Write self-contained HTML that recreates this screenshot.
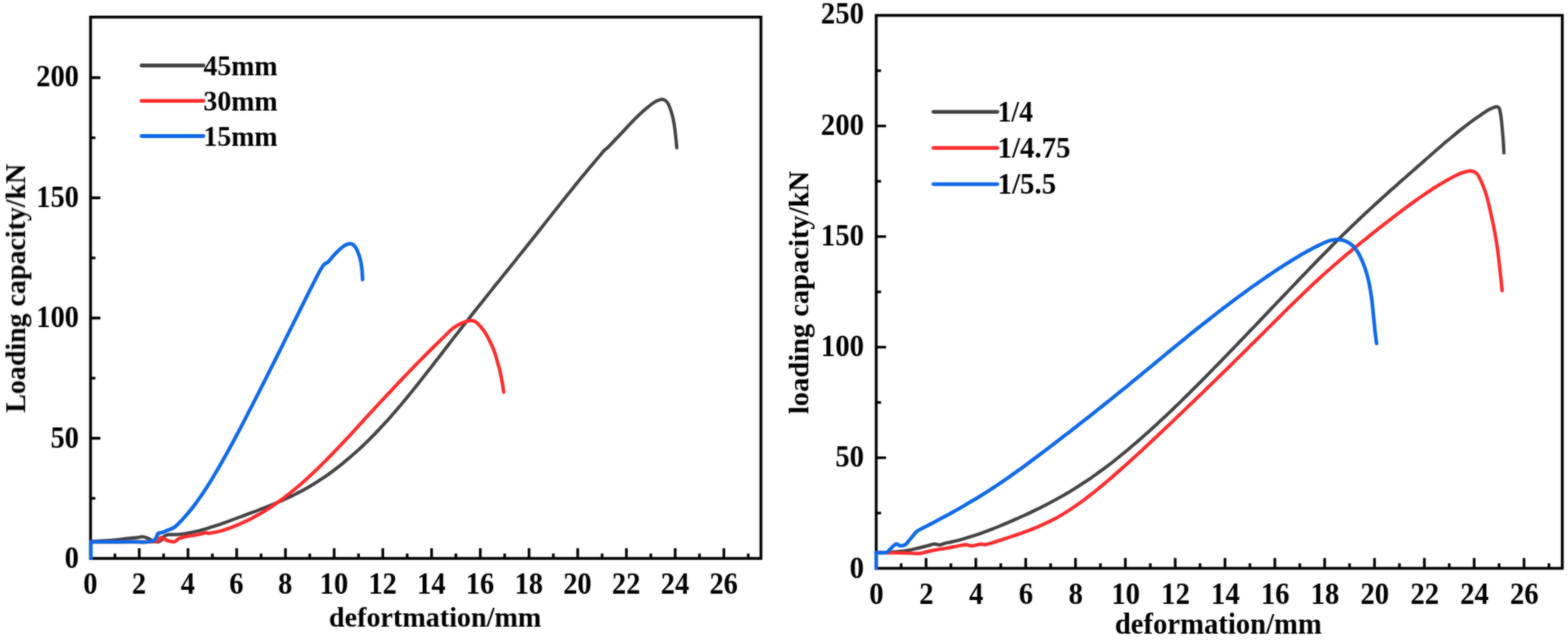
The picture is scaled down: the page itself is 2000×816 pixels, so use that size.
<!DOCTYPE html>
<html lang="en">
<head>
<meta charset="utf-8">
<title>Loading capacity vs deformation</title>
<style>
html,body{margin:0;padding:0;background:#fff;}
body{width:2000px;height:816px;overflow:hidden;}
svg{display:block;}
.t{font-size:36px;font-family:"Liberation Serif","DejaVu Serif",serif;font-weight:bold;fill:#000;}
</style>
</head>
<body>
<svg width="2000" height="816" viewBox="0 0 2000 816">
<defs><filter id="soft" x="-2%" y="-2%" width="104%" height="104%" color-interpolation-filters="sRGB"><feGaussianBlur in="SourceGraphic" stdDeviation="0.8" result="b"/><feComposite in="SourceGraphic" in2="b" operator="arithmetic" k1="0" k2="0.45" k3="0.55" k4="0"/></filter></defs>
<rect width="2000" height="816" fill="#fff"/>
<g filter="url(#soft)">
<g id="chart-left">
<rect x="115.5" y="21.8" width="855.1" height="690.2" fill="none" stroke="#000" stroke-width="3.6"/>
<path d="M146.6 712.0v-6.3M177.6 712.0v-13.0M208.7 712.0v-6.3M239.8 712.0v-13.0M270.9 712.0v-6.3M301.9 712.0v-13.0M333.0 712.0v-6.3M364.1 712.0v-13.0M395.1 712.0v-6.3M426.2 712.0v-13.0M457.3 712.0v-6.3M488.3 712.0v-13.0M519.4 712.0v-6.3M550.5 712.0v-13.0M581.5 712.0v-6.3M612.6 712.0v-13.0M643.7 712.0v-6.3M674.8 712.0v-13.0M705.8 712.0v-6.3M736.9 712.0v-13.0M768.0 712.0v-6.3M799.0 712.0v-13.0M830.1 712.0v-6.3M861.2 712.0v-13.0M892.2 712.0v-6.3M923.3 712.0v-13.0M954.4 712.0v-6.3M115.5 635.4h6.2M115.5 558.8h12.6M115.5 482.1h6.2M115.5 405.5h12.6M115.5 328.9h6.2M115.5 252.2h12.6M115.5 175.6h6.2M115.5 99.0h12.6" fill="none" stroke="#000" stroke-width="3.4"/>
<g class="t" text-anchor="middle" style="font-size:36.2px">
<text transform="translate(115.2 756.6) scale(1 1.09)">0</text>
<text transform="translate(177.3 756.6) scale(1 1.09)">2</text>
<text transform="translate(239.5 756.6) scale(1 1.09)">4</text>
<text transform="translate(301.6 756.6) scale(1 1.09)">6</text>
<text transform="translate(363.8 756.6) scale(1 1.09)">8</text>
<text transform="translate(425.9 756.6) scale(1 1.09)">10</text>
<text transform="translate(488.0 756.6) scale(1 1.09)">12</text>
<text transform="translate(550.2 756.6) scale(1 1.09)">14</text>
<text transform="translate(612.3 756.6) scale(1 1.09)">16</text>
<text transform="translate(674.5 756.6) scale(1 1.09)">18</text>
<text transform="translate(736.6 756.6) scale(1 1.09)">20</text>
<text transform="translate(798.7 756.6) scale(1 1.09)">22</text>
<text transform="translate(860.9 756.6) scale(1 1.09)">24</text>
<text transform="translate(923.0 756.6) scale(1 1.09)">26</text>
</g>
<g class="t" text-anchor="end" style="font-size:36.2px">
<text transform="translate(100.6 724.3) scale(1 1.09)">0</text>
<text transform="translate(100.6 570.8) scale(1 1.09)">50</text>
<text transform="translate(100.6 417.4) scale(1 1.09)">100</text>
<text transform="translate(100.6 263.9) scale(1 1.09)">150</text>
<text transform="translate(100.6 110.4) scale(1 1.09)">200</text>
</g>
<text class="t" transform="translate(419.6 798.8) scale(1 1.02)" textLength="270.8" lengthAdjust="spacingAndGlyphs">defortmation/mm</text>
<text class="t" text-anchor="middle" transform="translate(32.0 367.5) rotate(-90)" textLength="317.4" lengthAdjust="spacingAndGlyphs">Loading capacity/kN</text>
<path d="M116.0 690.5C121.7 690.1 140.2 688.9 150.0 688.0C159.8 687.1 169.7 685.9 175.0 685.3C180.3 684.7 179.8 684.2 182.0 684.3C184.2 684.4 185.7 685.1 188.0 686.0C190.3 686.9 193.7 689.0 196.0 689.8C198.3 690.6 200.3 691.0 202.0 690.8C203.7 690.6 204.8 689.6 206.0 688.5C207.2 687.4 207.7 685.3 209.0 684.2C210.3 683.1 211.8 682.2 214.0 681.8C216.2 681.4 219.3 681.8 221.9 681.7C224.6 681.6 227.2 681.3 229.9 681.1C232.5 680.8 235.2 680.4 237.8 680.0C240.5 679.6 243.1 679.1 245.8 678.5C248.4 678.0 251.1 677.3 253.7 676.7C256.4 676.0 259.0 675.3 261.7 674.5C264.3 673.8 267.0 673.0 269.6 672.1C272.3 671.3 274.9 670.4 277.6 669.5C280.2 668.6 282.9 667.7 285.5 666.8C288.2 665.8 290.8 664.9 293.5 663.9C296.1 662.9 298.8 661.9 301.4 660.9C304.1 660.0 306.7 659.0 309.4 658.0C312.0 657.0 314.7 656.0 317.3 655.0C320.0 654.0 322.6 653.1 325.3 652.1C327.9 651.0 330.6 650.0 333.2 649.0C335.9 648.0 338.5 647.0 341.2 645.9C343.8 644.8 346.5 643.8 349.1 642.7C351.8 641.6 354.4 640.4 357.0 639.3C359.7 638.1 362.3 636.9 365.0 635.7C367.6 634.5 370.3 633.3 372.9 632.0C375.6 630.7 378.2 629.3 380.9 628.0C383.5 626.6 386.2 625.2 388.8 623.7C391.5 622.2 394.1 620.7 396.8 619.1C399.4 617.6 402.1 615.9 404.7 614.2C407.4 612.6 410.0 610.8 412.7 609.0C415.3 607.2 418.0 605.4 420.6 603.5C423.3 601.5 425.9 599.6 428.6 597.5C431.2 595.5 433.9 593.4 436.5 591.3C439.2 589.2 441.8 587.0 444.5 584.7C447.1 582.5 449.8 580.2 452.4 577.8C455.1 575.5 457.7 573.0 460.4 570.6C463.0 568.1 465.7 565.6 468.3 563.0C471.0 560.4 473.6 557.8 476.3 555.1C478.9 552.4 481.6 549.6 484.2 546.8C486.9 544.0 489.5 541.2 492.1 538.2C494.8 535.3 497.4 532.4 500.1 529.3C502.7 526.3 505.4 523.2 508.0 520.1C510.7 517.0 513.3 513.9 516.0 510.7C518.6 507.5 521.3 504.2 523.9 501.0C526.6 497.7 529.2 494.4 531.9 491.1C534.5 487.8 537.2 484.4 539.8 481.0C542.5 477.7 545.1 474.3 547.8 470.9C550.4 467.5 553.1 464.1 555.7 460.6C558.4 457.2 561.0 453.8 563.7 450.4C566.3 446.9 569.0 443.5 571.6 440.1C574.3 436.6 576.9 433.2 579.6 429.8C582.2 426.4 584.9 423.0 587.5 419.6C590.2 416.2 592.8 412.8 595.5 409.5C598.1 406.1 600.8 402.8 603.4 399.4C606.1 396.1 608.7 392.7 611.4 389.4C614.0 386.1 616.7 382.8 619.3 379.5C622.0 376.2 624.6 372.8 627.3 369.5C629.9 366.2 632.5 362.9 635.2 359.7C637.8 356.4 640.5 353.1 643.1 349.8C645.8 346.5 648.4 343.2 651.1 339.9C653.7 336.6 656.4 333.3 659.0 330.0C661.7 326.7 664.3 323.4 667.0 320.1C669.6 316.8 672.3 313.4 674.9 310.1C677.6 306.8 680.2 303.5 682.9 300.1C685.5 296.8 688.2 293.4 690.8 290.1C693.5 286.7 696.1 283.4 698.8 280.0C701.4 276.7 704.1 273.3 706.7 270.0C709.4 266.6 712.0 263.3 714.7 260.0C717.3 256.6 720.0 253.3 722.6 250.0C725.3 246.7 727.9 243.4 730.6 240.1C733.2 236.8 735.9 233.6 738.5 230.3C741.2 227.1 743.8 223.8 746.5 220.6C749.1 217.4 751.8 214.2 754.4 211.1C757.1 207.9 759.7 204.8 762.4 201.7C765.0 198.6 768.1 194.6 770.3 192.3C772.5 190.0 772.5 190.7 775.5 187.8C778.5 184.9 783.9 179.0 788.0 174.7C792.1 170.4 796.2 166.1 800.0 162.0C803.8 157.9 806.9 154.4 811.0 150.4C815.1 146.4 820.7 141.2 824.8 137.8C828.9 134.4 832.5 131.7 835.6 129.8C838.7 127.9 841.4 126.9 843.6 126.6C845.8 126.3 847.1 127.0 848.6 128.1C850.1 129.2 851.4 130.4 852.7 133.1C854.1 135.8 855.5 140.2 856.7 144.2C857.9 148.2 858.9 152.5 859.7 157.2C860.5 161.9 861.1 167.1 861.7 172.3C862.3 177.5 863.0 185.7 863.2 188.4" fill="none" stroke="#414141" stroke-width="4.2" stroke-linecap="round" stroke-linejoin="round"/>
<path d="M116.0 691.0C121.7 691.0 136.4 691.1 150.0 691.0C163.6 690.9 188.6 691.2 197.5 690.5C206.4 689.8 202.1 687.3 203.5 686.5C204.9 685.7 204.9 685.3 206.0 685.5C207.1 685.7 208.5 686.8 210.0 687.5C211.5 688.2 212.9 689.3 215.0 689.8C217.1 690.3 220.2 691.2 222.5 690.7C224.8 690.2 226.0 687.7 228.5 686.6C231.0 685.5 233.9 684.7 237.5 684.0C241.1 683.3 245.9 683.0 250.0 682.2C254.1 681.4 259.2 679.6 262.0 679.2C264.8 678.8 263.5 680.3 266.5 680.0C269.5 679.7 276.4 678.2 280.0 677.4C283.6 676.5 285.4 675.8 288.0 674.9C290.7 674.1 293.4 673.1 296.1 672.1C298.8 671.1 301.4 670.0 304.1 668.9C306.8 667.8 309.5 666.6 312.1 665.3C314.8 664.1 317.5 662.7 320.2 661.4C322.9 660.0 325.5 658.5 328.2 657.0C330.9 655.5 333.6 654.0 336.3 652.3C338.9 650.7 341.6 649.0 344.3 647.3C347.0 645.5 349.7 643.7 352.3 641.9C355.0 640.0 357.7 638.1 360.4 636.1C363.0 634.1 365.7 632.0 368.4 629.9C371.1 627.8 373.8 625.7 376.4 623.4C379.1 621.2 381.8 618.9 384.5 616.6C387.2 614.2 389.8 611.8 392.5 609.4C395.2 606.9 397.9 604.4 400.6 601.9C403.2 599.3 405.9 596.7 408.6 594.1C411.3 591.5 413.9 588.8 416.6 586.1C419.3 583.4 422.0 580.7 424.7 577.9C427.3 575.1 430.0 572.3 432.7 569.5C435.4 566.7 438.1 563.8 440.7 561.0C443.4 558.1 446.1 555.2 448.8 552.3C451.5 549.4 454.1 546.5 456.8 543.6C459.5 540.7 462.2 537.8 464.8 534.8C467.5 531.9 470.2 529.0 472.9 526.1C475.6 523.2 478.2 520.2 480.9 517.3C483.6 514.4 486.3 511.5 489.0 508.7C491.6 505.8 494.3 502.9 497.0 500.1C499.7 497.2 502.4 494.4 505.0 491.5C507.7 488.7 510.4 485.9 513.1 483.1C515.7 480.3 518.4 477.5 521.1 474.7C523.8 471.9 526.5 469.2 529.1 466.4C531.8 463.7 534.5 460.9 537.2 458.2C539.9 455.5 542.5 452.8 545.2 450.1C547.9 447.5 550.6 444.8 553.3 442.1C555.9 439.5 558.6 436.9 561.3 434.3C564.0 431.6 566.6 429.0 569.3 426.5C572.0 423.9 574.7 420.9 577.4 418.8C580.0 416.7 582.4 415.2 585.4 413.7C588.4 412.2 592.8 410.4 595.5 409.6C598.2 408.8 599.7 408.7 601.5 408.8C603.3 408.9 604.6 408.9 606.5 410.2C608.4 411.5 610.8 414.0 613.0 416.5C615.2 419.0 617.3 421.6 619.5 425.2C621.7 428.8 624.3 434.1 626.3 438.3C628.3 442.5 630.0 446.4 631.4 450.4C632.8 454.3 633.7 458.7 634.6 462.0C635.5 465.3 636.0 465.8 637.0 470.0C638.0 474.2 639.6 482.0 640.5 487.0C641.4 492.0 642.2 497.8 642.5 500.0" fill="none" stroke="#fb2a2c" stroke-width="4.4" stroke-linecap="round" stroke-linejoin="round"/>
<path d="M116.0 713.8V690.7" fill="none" stroke="#0c68e6" stroke-width="4.5"/>
<path d="M116.0 690.7C121.7 690.7 140.2 690.9 150.0 690.9C159.8 690.9 169.5 690.6 175.0 690.7C180.5 690.8 180.3 691.3 182.8 691.3C185.3 691.3 187.8 690.8 190.0 690.5C192.2 690.2 194.4 690.4 196.0 689.5C197.6 688.6 198.6 686.5 199.5 685.0C200.4 683.5 200.2 681.3 201.5 680.3C202.8 679.2 205.0 679.6 207.5 678.7C210.0 677.8 213.9 676.1 216.5 675.0C219.1 673.9 220.6 673.7 223.0 671.9C225.4 670.1 228.4 666.9 231.1 664.1C233.8 661.3 236.5 658.3 239.2 655.1C241.9 651.9 244.6 648.5 247.3 645.0C250.0 641.4 252.7 637.7 255.4 633.8C258.1 629.9 260.8 625.9 263.5 621.7C266.2 617.5 268.9 613.2 271.5 608.8C274.2 604.4 276.9 599.8 279.6 595.2C282.3 590.5 285.0 585.8 287.7 580.9C290.4 576.1 293.1 571.2 295.8 566.2C298.5 561.2 301.2 556.1 303.9 551.0C306.6 545.9 309.3 540.7 312.0 535.5C314.7 530.3 317.4 525.1 320.1 519.8C322.8 514.6 325.5 509.3 328.2 504.0C330.9 498.7 333.6 493.4 336.3 488.1C339.0 482.7 341.7 477.4 344.4 472.0C347.1 466.7 349.8 461.3 352.5 455.9C355.2 450.5 357.9 445.1 360.6 439.7C363.2 434.3 365.9 428.9 368.6 423.5C371.3 418.1 374.0 412.7 376.7 407.3C379.4 401.8 382.1 396.4 384.8 391.0C387.5 385.6 390.2 380.2 392.9 374.8C395.6 369.5 398.3 364.0 401.0 358.7C403.7 353.5 407.1 347.0 409.1 343.4C411.1 339.8 412.2 338.5 413.3 337.2C414.4 335.9 414.9 336.2 415.7 335.7C416.5 335.2 417.0 335.5 418.2 334.3C419.4 333.1 421.2 330.9 423.1 328.7C425.0 326.5 427.4 323.6 429.7 321.3C432.0 319.0 434.9 316.4 437.1 314.7C439.3 313.0 441.3 312.1 442.9 311.4C444.5 310.7 445.4 310.6 446.6 310.7C447.8 310.8 449.1 310.9 450.3 311.8C451.5 312.7 452.8 314.1 454.0 316.2C455.2 318.3 456.5 321.2 457.6 324.3C458.7 327.4 459.7 331.1 460.4 334.6C461.1 338.2 461.5 342.0 461.9 345.6C462.2 349.2 462.4 354.7 462.5 356.5" fill="none" stroke="#0c68e6" stroke-width="4.6" stroke-linecap="round" stroke-linejoin="round"/>
<path d="M180.5 83.5H259.5" stroke="#414141" stroke-width="4.8" stroke-linecap="round"/>
<text class="t" style="font-size:36px" x="259.5" y="95.5" textLength="94.5" lengthAdjust="spacingAndGlyphs">45mm</text>
<path d="M180.5 128.7H259.5" stroke="#fb2a2c" stroke-width="4.8" stroke-linecap="round"/>
<text class="t" style="font-size:36px" x="259.5" y="140.7" textLength="94.5" lengthAdjust="spacingAndGlyphs">30mm</text>
<path d="M180.5 173.5H259.5" stroke="#0c68e6" stroke-width="4.8" stroke-linecap="round"/>
<text class="t" style="font-size:36px" x="259.5" y="185.5" textLength="94.5" lengthAdjust="spacingAndGlyphs">15mm</text>
</g>
<g id="chart-right">
<rect x="1117.6" y="19.6" width="875.1" height="705.0" fill="none" stroke="#000" stroke-width="3.6"/>
<path d="M1149.4 724.6v-6.3M1181.2 724.6v-13.0M1212.9 724.6v-6.3M1244.7 724.6v-13.0M1276.5 724.6v-6.3M1308.3 724.6v-13.0M1340.1 724.6v-6.3M1371.8 724.6v-13.0M1403.6 724.6v-6.3M1435.4 724.6v-13.0M1467.2 724.6v-6.3M1499.0 724.6v-13.0M1530.7 724.6v-6.3M1562.5 724.6v-13.0M1594.3 724.6v-6.3M1626.1 724.6v-13.0M1657.9 724.6v-6.3M1689.6 724.6v-13.0M1721.4 724.6v-6.3M1753.2 724.6v-13.0M1785.0 724.6v-6.3M1816.8 724.6v-13.0M1848.5 724.6v-6.3M1880.3 724.6v-13.0M1912.1 724.6v-6.3M1943.9 724.6v-13.0M1975.7 724.6v-6.3M1117.6 654.1h6.2M1117.6 583.6h12.6M1117.6 513.1h6.2M1117.6 442.6h12.6M1117.6 372.1h6.2M1117.6 301.6h12.6M1117.6 231.1h6.2M1117.6 160.6h12.6M1117.6 90.1h6.2" fill="none" stroke="#000" stroke-width="3.4"/>
<g class="t" text-anchor="middle" style="font-size:36.6px">
<text transform="translate(1118.0 769.8) scale(1 1.12)">0</text>
<text transform="translate(1181.6 769.8) scale(1 1.12)">2</text>
<text transform="translate(1245.1 769.8) scale(1 1.12)">4</text>
<text transform="translate(1308.7 769.8) scale(1 1.12)">6</text>
<text transform="translate(1372.2 769.8) scale(1 1.12)">8</text>
<text transform="translate(1435.8 769.8) scale(1 1.12)">10</text>
<text transform="translate(1499.4 769.8) scale(1 1.12)">12</text>
<text transform="translate(1562.9 769.8) scale(1 1.12)">14</text>
<text transform="translate(1626.5 769.8) scale(1 1.12)">16</text>
<text transform="translate(1690.0 769.8) scale(1 1.12)">18</text>
<text transform="translate(1753.6 769.8) scale(1 1.12)">20</text>
<text transform="translate(1817.2 769.8) scale(1 1.12)">22</text>
<text transform="translate(1880.7 769.8) scale(1 1.12)">24</text>
<text transform="translate(1944.3 769.8) scale(1 1.12)">26</text>
</g>
<g class="t" text-anchor="end" style="font-size:36.6px">
<text transform="translate(1102.0 736.7) scale(1 1.12)">0</text>
<text transform="translate(1102.0 595.4) scale(1 1.12)">50</text>
<text transform="translate(1102.0 454.1) scale(1 1.12)">100</text>
<text transform="translate(1102.0 312.8) scale(1 1.12)">150</text>
<text transform="translate(1102.0 171.5) scale(1 1.12)">200</text>
<text transform="translate(1102.0 30.2) scale(1 1.12)">250</text>
</g>
<text class="t" transform="translate(1422.0 808.3) scale(1 1.04)" textLength="264.0" lengthAdjust="spacingAndGlyphs">deformation/mm</text>
<text class="t" text-anchor="middle" transform="translate(1031.4 373.0) rotate(-90)" textLength="310.1" lengthAdjust="spacingAndGlyphs">loading capacity/kN</text>
<path d="M1117.7 704.6C1119.8 704.6 1124.2 704.9 1130.0 704.6C1135.8 704.3 1146.2 703.5 1152.5 702.7C1158.8 701.9 1162.5 700.8 1167.5 699.7C1172.5 698.6 1178.5 697.0 1182.5 696.0C1186.5 695.0 1188.8 693.9 1191.5 693.7C1194.2 693.5 1196.8 695.0 1199.0 694.8C1201.2 694.6 1202.7 693.4 1205.0 692.8C1207.3 692.2 1210.3 691.7 1213.0 691.1C1215.7 690.5 1218.4 689.9 1221.0 689.2C1223.7 688.5 1226.4 687.8 1229.1 687.0C1231.7 686.3 1234.4 685.5 1237.1 684.6C1239.8 683.8 1242.4 682.9 1245.1 682.0C1247.8 681.1 1250.5 680.2 1253.1 679.2C1255.8 678.3 1258.5 677.3 1261.2 676.3C1263.8 675.2 1266.5 674.2 1269.2 673.1C1271.9 672.1 1274.5 671.0 1277.2 669.9C1279.9 668.8 1282.6 667.6 1285.2 666.5C1287.9 665.3 1290.6 664.2 1293.3 663.0C1295.9 661.8 1298.6 660.7 1301.3 659.4C1304.0 658.2 1306.6 657.0 1309.3 655.8C1312.0 654.5 1314.7 653.3 1317.3 652.0C1320.0 650.7 1322.7 649.4 1325.4 648.1C1328.0 646.8 1330.7 645.4 1333.4 644.1C1336.1 642.7 1338.7 641.3 1341.4 639.9C1344.1 638.5 1346.8 637.0 1349.4 635.5C1352.1 634.0 1354.8 632.5 1357.5 631.0C1360.1 629.4 1362.8 627.9 1365.5 626.2C1368.2 624.6 1370.8 623.0 1373.5 621.3C1376.2 619.6 1378.9 617.9 1381.5 616.1C1384.2 614.4 1386.9 612.6 1389.6 610.8C1392.2 608.9 1394.9 607.0 1397.6 605.1C1400.3 603.2 1402.9 601.3 1405.6 599.3C1408.3 597.3 1411.0 595.3 1413.6 593.3C1416.3 591.3 1419.0 589.2 1421.7 587.1C1424.3 585.0 1427.0 582.8 1429.7 580.7C1432.4 578.5 1435.0 576.3 1437.7 574.1C1440.4 571.9 1443.1 569.6 1445.7 567.3C1448.4 565.0 1451.1 562.7 1453.8 560.4C1456.4 558.1 1459.1 555.7 1461.8 553.3C1464.5 550.9 1467.1 548.5 1469.8 546.1C1472.5 543.7 1475.2 541.2 1477.8 538.7C1480.5 536.3 1483.2 533.8 1485.9 531.3C1488.5 528.8 1491.2 526.2 1493.9 523.7C1496.6 521.1 1499.2 518.5 1501.9 516.0C1504.6 513.4 1507.3 510.8 1509.9 508.1C1512.6 505.5 1515.3 502.9 1518.0 500.2C1520.6 497.6 1523.3 494.9 1526.0 492.3C1528.7 489.6 1531.3 486.9 1534.0 484.2C1536.7 481.5 1539.4 478.8 1542.0 476.1C1544.7 473.4 1547.4 470.6 1550.0 467.9C1552.7 465.2 1555.4 462.4 1558.1 459.7C1560.7 456.9 1563.4 454.2 1566.1 451.4C1568.8 448.6 1571.4 445.9 1574.1 443.1C1576.8 440.3 1579.5 437.6 1582.1 434.8C1584.8 432.0 1587.5 429.2 1590.2 426.4C1592.8 423.6 1595.5 420.8 1598.2 418.1C1600.9 415.3 1603.5 412.5 1606.2 409.7C1608.9 406.9 1611.6 404.1 1614.2 401.3C1616.9 398.5 1619.6 395.6 1622.3 392.8C1624.9 390.0 1627.6 387.2 1630.3 384.4C1633.0 381.6 1635.6 378.8 1638.3 376.0C1641.0 373.2 1643.7 370.4 1646.3 367.6C1649.0 364.8 1651.7 362.0 1654.4 359.2C1657.0 356.4 1659.7 353.6 1662.4 350.8C1665.1 348.1 1667.7 345.3 1670.4 342.5C1673.1 339.7 1675.8 337.0 1678.4 334.2C1681.1 331.5 1683.8 328.7 1686.5 326.0C1689.1 323.3 1691.8 320.6 1694.5 317.9C1697.2 315.2 1699.8 312.5 1702.5 309.8C1705.2 307.1 1707.9 304.5 1710.5 301.8C1713.2 299.2 1715.9 296.6 1718.6 294.0C1721.2 291.4 1723.9 288.8 1726.6 286.2C1729.3 283.7 1731.9 281.1 1734.6 278.6C1737.3 276.1 1740.0 273.6 1742.6 271.1C1745.3 268.6 1748.0 266.1 1750.7 263.7C1753.3 261.2 1756.0 258.8 1758.7 256.4C1761.4 253.9 1764.0 251.5 1766.7 249.1C1769.4 246.7 1772.1 244.3 1774.7 241.9C1777.4 239.6 1780.1 237.2 1782.8 234.8C1785.4 232.4 1788.1 230.1 1790.8 227.7C1793.5 225.4 1796.1 223.0 1798.8 220.7C1801.5 218.3 1804.2 216.0 1806.8 213.6C1809.5 211.3 1812.2 208.9 1814.9 206.6C1817.5 204.2 1820.2 201.8 1822.9 199.5C1825.6 197.2 1828.2 194.8 1830.9 192.5C1833.6 190.2 1836.3 187.8 1838.9 185.5C1841.6 183.2 1844.3 180.9 1847.0 178.7C1849.6 176.4 1852.3 174.2 1855.0 172.0C1857.7 169.8 1860.3 167.7 1863.0 165.5C1865.7 163.4 1868.4 161.3 1871.0 159.3C1873.7 157.2 1876.4 155.2 1879.1 153.3C1881.7 151.4 1884.4 149.5 1887.1 147.7C1889.8 145.8 1892.8 143.7 1895.1 142.2C1897.4 140.7 1899.3 139.8 1901.0 138.9C1902.7 138.0 1904.2 137.5 1905.5 137.0C1906.8 136.5 1907.9 136.2 1908.8 136.1C1909.7 136.0 1910.2 136.0 1910.8 136.4C1911.4 136.8 1912.1 137.2 1912.6 138.6C1913.1 140.0 1913.5 142.3 1914.0 145.1C1914.5 147.9 1914.9 151.9 1915.3 155.2C1915.7 158.5 1915.8 160.7 1916.2 165.0C1916.6 169.3 1917.2 176.2 1917.5 181.2C1917.8 186.2 1918.2 192.7 1918.3 195.0" fill="none" stroke="#414141" stroke-width="4.2" stroke-linecap="round" stroke-linejoin="round"/>
<path d="M1117.7 704.8C1119.8 704.8 1124.2 704.9 1130.0 704.9C1135.8 704.9 1145.5 704.9 1152.5 705.0C1159.5 705.1 1167.0 706.0 1172.0 705.7C1177.0 705.5 1179.0 704.2 1182.5 703.5C1186.0 702.8 1189.2 701.9 1193.0 701.2C1196.8 700.5 1200.5 700.0 1205.0 699.3C1209.5 698.5 1215.5 697.5 1220.0 696.7C1224.5 695.9 1228.8 694.6 1232.0 694.5C1235.2 694.4 1236.2 696.1 1239.5 696.0C1242.8 695.9 1248.8 694.0 1251.5 693.7C1254.2 693.5 1253.8 694.7 1256.0 694.5C1258.2 694.3 1262.2 693.2 1265.0 692.4C1267.8 691.6 1270.3 690.6 1273.0 689.7C1275.6 688.9 1278.3 688.0 1280.9 687.1C1283.6 686.3 1286.3 685.4 1288.9 684.5C1291.6 683.6 1294.2 682.7 1296.9 681.8C1299.5 680.9 1302.2 680.0 1304.9 679.0C1307.5 678.1 1310.2 677.1 1312.8 676.1C1315.5 675.1 1318.2 674.0 1320.8 672.9C1323.5 671.9 1326.1 670.7 1328.8 669.5C1331.4 668.4 1334.1 667.1 1336.8 665.8C1339.4 664.6 1342.1 663.2 1344.7 661.8C1347.4 660.4 1350.0 658.9 1352.7 657.4C1355.4 655.8 1358.0 654.2 1360.7 652.5C1363.3 650.9 1366.0 649.1 1368.6 647.3C1371.3 645.5 1374.0 643.7 1376.6 641.8C1379.3 639.9 1381.9 637.9 1384.6 635.9C1387.3 633.9 1389.9 631.8 1392.6 629.8C1395.2 627.7 1397.9 625.5 1400.5 623.4C1403.2 621.2 1405.9 619.0 1408.5 616.8C1411.2 614.5 1413.8 612.3 1416.5 610.0C1419.1 607.7 1421.8 605.4 1424.5 603.0C1427.1 600.7 1429.8 598.3 1432.4 596.0C1435.1 593.6 1437.7 591.2 1440.4 588.8C1443.1 586.4 1445.7 584.0 1448.4 581.6C1451.0 579.1 1453.7 576.7 1456.4 574.3C1459.0 571.8 1461.7 569.3 1464.3 566.9C1467.0 564.4 1469.6 561.9 1472.3 559.4C1475.0 557.0 1477.6 554.5 1480.3 551.9C1482.9 549.4 1485.6 546.9 1488.2 544.4C1490.9 541.9 1493.6 539.4 1496.2 536.8C1498.9 534.3 1501.5 531.7 1504.2 529.2C1506.8 526.7 1509.5 524.1 1512.2 521.5C1514.8 519.0 1517.5 516.4 1520.1 513.9C1522.8 511.3 1525.5 508.7 1528.1 506.2C1530.8 503.6 1533.4 501.0 1536.1 498.5C1538.7 495.9 1541.4 493.3 1544.1 490.7C1546.7 488.1 1549.4 485.5 1552.0 483.0C1554.7 480.4 1557.3 477.8 1560.0 475.2C1562.7 472.6 1565.3 470.0 1568.0 467.4C1570.6 464.8 1573.3 462.1 1575.9 459.5C1578.6 456.9 1581.3 454.3 1583.9 451.7C1586.6 449.1 1589.2 446.4 1591.9 443.8C1594.5 441.2 1597.2 438.5 1599.9 435.9C1602.5 433.2 1605.2 430.6 1607.8 428.0C1610.5 425.3 1613.2 422.7 1615.8 420.0C1618.5 417.4 1621.1 414.7 1623.8 412.1C1626.4 409.4 1629.1 406.8 1631.8 404.1C1634.4 401.5 1637.1 398.9 1639.7 396.2C1642.4 393.6 1645.0 391.0 1647.7 388.4C1650.4 385.8 1653.0 383.2 1655.7 380.6C1658.3 378.1 1661.0 375.5 1663.6 373.0C1666.3 370.4 1669.0 367.9 1671.6 365.4C1674.3 362.9 1676.9 360.4 1679.6 358.0C1682.3 355.5 1684.9 353.1 1687.6 350.7C1690.2 348.3 1692.9 345.9 1695.5 343.6C1698.2 341.2 1700.9 338.9 1703.5 336.6C1706.2 334.3 1708.8 332.0 1711.5 329.7C1714.1 327.5 1716.8 325.2 1719.5 323.0C1722.1 320.8 1724.8 318.6 1727.4 316.4C1730.1 314.2 1732.7 312.0 1735.4 309.9C1738.1 307.7 1740.7 305.6 1743.4 303.5C1746.0 301.3 1748.7 299.2 1751.4 297.1C1754.0 295.0 1756.7 292.9 1759.3 290.8C1762.0 288.8 1764.6 286.7 1767.3 284.6C1770.0 282.6 1772.6 280.5 1775.3 278.4C1777.9 276.4 1780.6 274.4 1783.2 272.3C1785.9 270.3 1788.6 268.3 1791.2 266.3C1793.9 264.3 1796.5 262.3 1799.2 260.4C1801.8 258.4 1804.5 256.5 1807.2 254.6C1809.8 252.7 1812.5 250.9 1815.1 249.0C1817.8 247.2 1820.5 245.4 1823.1 243.6C1825.8 241.9 1828.4 240.1 1831.1 238.5C1833.7 236.8 1836.4 235.2 1839.1 233.6C1841.7 232.0 1844.4 230.5 1847.0 229.0C1849.7 227.5 1851.8 226.2 1855.0 224.7C1858.2 223.2 1863.0 221.0 1866.2 219.9C1869.5 218.8 1872.2 218.2 1874.5 218.0C1876.8 217.8 1878.2 218.0 1879.8 218.7C1881.4 219.4 1882.9 220.5 1884.3 222.1C1885.7 223.7 1886.6 225.7 1888.0 228.5C1889.4 231.3 1891.1 235.4 1892.5 239.0C1893.9 242.6 1895.2 246.6 1896.3 250.3C1897.4 254.0 1898.1 256.7 1899.1 261.0C1900.1 265.3 1901.3 271.0 1902.4 276.0C1903.5 281.0 1904.3 284.2 1905.6 291.0C1906.9 297.8 1908.8 308.5 1910.0 317.0C1911.2 325.5 1912.0 333.1 1913.0 342.0C1914.0 350.9 1915.5 365.8 1916.0 370.5" fill="none" stroke="#fb2a2c" stroke-width="4.4" stroke-linecap="round" stroke-linejoin="round"/>
<path d="M1117.7 726.4V704.6" fill="none" stroke="#0c68e6" stroke-width="4.5"/>
<path d="M1117.7 704.6C1119.8 704.6 1127.2 705.2 1130.0 704.6C1132.8 704.0 1132.4 702.8 1134.5 701.0C1136.6 699.2 1140.5 694.6 1142.7 693.7C1145.0 692.8 1146.0 695.6 1148.0 695.7C1150.0 695.8 1152.7 695.7 1154.7 694.5C1156.7 693.3 1157.6 691.2 1160.0 688.5C1162.4 685.8 1166.5 680.4 1169.0 678.0C1171.5 675.6 1172.7 675.6 1175.0 674.3C1177.3 673.0 1180.4 671.6 1183.0 670.2C1185.7 668.8 1188.4 667.4 1191.1 666.0C1193.8 664.6 1196.5 663.2 1199.1 661.7C1201.8 660.3 1204.5 658.8 1207.2 657.4C1209.9 655.9 1212.6 654.5 1215.2 653.0C1217.9 651.5 1220.6 650.0 1223.3 648.5C1226.0 646.9 1228.6 645.4 1231.3 643.8C1234.0 642.3 1236.7 640.7 1239.4 639.1C1242.1 637.5 1244.7 635.9 1247.4 634.2C1250.1 632.6 1252.8 630.9 1255.5 629.2C1258.2 627.5 1260.8 625.8 1263.5 624.1C1266.2 622.3 1268.9 620.6 1271.6 618.8C1274.2 617.0 1276.9 615.2 1279.6 613.3C1282.3 611.5 1285.0 609.7 1287.7 607.8C1290.3 605.9 1293.0 604.0 1295.7 602.1C1298.4 600.2 1301.1 598.2 1303.8 596.3C1306.4 594.3 1309.1 592.4 1311.8 590.4C1314.5 588.4 1317.2 586.4 1319.8 584.4C1322.5 582.4 1325.2 580.4 1327.9 578.4C1330.6 576.4 1333.3 574.4 1335.9 572.3C1338.6 570.3 1341.3 568.2 1344.0 566.2C1346.7 564.1 1349.3 562.1 1352.0 560.0C1354.7 557.9 1357.4 555.9 1360.1 553.8C1362.8 551.7 1365.4 549.7 1368.1 547.6C1370.8 545.5 1373.5 543.4 1376.2 541.3C1378.9 539.2 1381.5 537.1 1384.2 535.0C1386.9 532.9 1389.6 530.8 1392.3 528.7C1394.9 526.6 1397.6 524.5 1400.3 522.3C1403.0 520.2 1405.7 518.1 1408.4 515.9C1411.0 513.8 1413.7 511.6 1416.4 509.5C1419.1 507.3 1421.8 505.2 1424.5 503.0C1427.1 500.8 1429.8 498.7 1432.5 496.5C1435.2 494.3 1437.9 492.1 1440.5 489.9C1443.2 487.7 1445.9 485.5 1448.6 483.3C1451.3 481.1 1454.0 478.9 1456.6 476.7C1459.3 474.5 1462.0 472.2 1464.7 470.0C1467.4 467.8 1470.1 465.6 1472.7 463.4C1475.4 461.2 1478.1 458.9 1480.8 456.7C1483.5 454.5 1486.1 452.3 1488.8 450.1C1491.5 447.9 1494.2 445.7 1496.9 443.5C1499.6 441.3 1502.2 439.1 1504.9 436.9C1507.6 434.7 1510.3 432.5 1513.0 430.4C1515.7 428.2 1518.3 426.0 1521.0 423.9C1523.7 421.7 1526.4 419.6 1529.1 417.4C1531.7 415.3 1534.4 413.2 1537.1 411.1C1539.8 408.9 1542.5 406.8 1545.2 404.8C1547.8 402.7 1550.5 400.6 1553.2 398.5C1555.9 396.4 1558.6 394.4 1561.2 392.3C1563.9 390.3 1566.6 388.3 1569.3 386.2C1572.0 384.2 1574.7 382.2 1577.3 380.2C1580.0 378.2 1582.7 376.3 1585.4 374.3C1588.1 372.3 1590.8 370.4 1593.4 368.5C1596.1 366.5 1598.8 364.6 1601.5 362.7C1604.2 360.8 1606.8 358.9 1609.5 357.1C1612.2 355.2 1614.9 353.4 1617.6 351.5C1620.3 349.7 1622.9 347.9 1625.6 346.1C1628.3 344.3 1631.0 342.6 1633.7 340.8C1636.4 339.1 1639.0 337.4 1641.7 335.7C1644.4 334.0 1647.1 332.3 1649.8 330.7C1652.4 329.1 1655.1 327.5 1657.8 325.9C1660.5 324.4 1663.2 322.8 1665.9 321.3C1668.5 319.8 1671.2 318.4 1673.9 316.9C1676.6 315.5 1679.4 314.0 1682.0 312.8C1684.6 311.5 1687.7 310.2 1689.5 309.3C1691.3 308.5 1691.7 308.3 1692.8 307.9C1693.9 307.4 1695.0 307.1 1696.1 306.7C1697.2 306.4 1698.3 306.2 1699.4 306.0C1700.4 305.7 1701.5 305.6 1702.6 305.5C1703.6 305.4 1704.7 305.4 1705.7 305.4C1706.7 305.4 1707.7 305.4 1708.7 305.6C1709.7 305.7 1710.7 305.8 1711.7 306.0C1712.6 306.2 1713.6 306.5 1714.5 306.8C1715.4 307.1 1716.3 307.5 1717.2 307.9C1718.1 308.2 1718.9 308.7 1719.8 309.2C1720.6 309.6 1721.4 310.2 1722.2 310.7C1722.9 311.3 1723.7 311.9 1724.4 312.5C1725.1 313.2 1725.8 313.8 1726.5 314.6C1727.1 315.3 1727.8 316.0 1728.4 316.8C1729.0 317.5 1729.6 318.3 1730.2 319.1C1730.8 319.9 1731.4 320.8 1731.9 321.6C1732.4 322.5 1733.0 323.4 1733.5 324.3C1734.0 325.2 1734.4 326.1 1734.9 327.0C1735.4 327.9 1735.8 328.9 1736.3 329.8C1736.7 330.8 1737.1 331.7 1737.5 332.7C1737.9 333.6 1738.3 334.6 1738.7 335.5C1739.1 336.5 1739.5 337.5 1739.8 338.4C1740.2 339.4 1740.5 340.4 1740.9 341.3C1741.2 342.3 1741.5 343.3 1741.9 344.3C1742.2 345.2 1742.5 346.2 1742.8 347.2C1743.1 348.2 1743.4 349.2 1743.6 350.1C1743.9 351.1 1744.2 352.1 1744.4 353.1C1744.7 354.1 1744.9 355.1 1745.2 356.1C1745.4 357.1 1745.6 358.1 1745.9 359.1C1746.1 360.1 1746.3 361.1 1746.5 362.1C1746.7 363.1 1746.9 364.1 1747.1 365.1C1747.3 366.1 1747.5 367.1 1747.6 368.1C1747.8 369.1 1748.0 370.1 1748.2 371.1C1748.3 372.1 1748.5 373.1 1748.6 374.2C1748.8 375.2 1748.9 376.2 1749.1 377.2C1749.2 378.2 1749.4 379.2 1749.5 380.2C1749.6 381.2 1749.8 382.3 1749.9 383.3C1750.0 384.3 1750.1 385.3 1750.2 386.3C1750.4 387.4 1750.5 388.4 1750.6 389.4C1750.7 390.4 1750.8 391.4 1750.9 392.4C1751.0 393.5 1751.1 394.5 1751.2 395.5C1751.3 396.5 1751.4 397.5 1751.5 398.6C1751.6 399.6 1751.7 400.6 1751.8 401.6C1751.9 402.6 1752.0 403.6 1752.1 404.7C1752.2 405.7 1752.3 406.7 1752.4 407.7C1752.5 408.7 1752.6 409.7 1752.7 410.8C1752.8 411.8 1752.9 412.8 1753.0 413.8C1753.1 414.8 1753.2 415.8 1753.3 416.8C1753.4 417.9 1753.5 418.9 1753.6 419.9C1753.7 420.9 1753.8 421.9 1753.9 422.9C1754.1 423.9 1754.2 424.9 1754.3 425.9C1754.4 426.9 1754.5 427.9 1754.7 428.9C1754.8 429.9 1754.9 430.9 1755.0 431.9C1755.2 432.9 1755.3 433.9 1755.5 434.9C1755.6 435.9 1755.8 437.4 1755.9 437.9" fill="none" stroke="#0c68e6" stroke-width="4.6" stroke-linecap="round" stroke-linejoin="round"/>
<path d="M1190.5 142.6H1272.2" stroke="#414141" stroke-width="4.8" stroke-linecap="round"/>
<text class="t" style="font-size:37.3px" x="1272.5" y="155.2" textLength="45.0" lengthAdjust="spacingAndGlyphs">1/4</text>
<path d="M1190.5 188.6H1272.2" stroke="#fb2a2c" stroke-width="4.8" stroke-linecap="round"/>
<text class="t" style="font-size:37.3px" x="1272.5" y="201.2" textLength="93.0" lengthAdjust="spacingAndGlyphs">1/4.75</text>
<path d="M1190.5 234.8H1272.2" stroke="#0c68e6" stroke-width="4.8" stroke-linecap="round"/>
<text class="t" style="font-size:37.3px" x="1272.5" y="247.4" textLength="74.6" lengthAdjust="spacingAndGlyphs">1/5.5</text>
</g>
</g>
</svg>
</body>
</html>
